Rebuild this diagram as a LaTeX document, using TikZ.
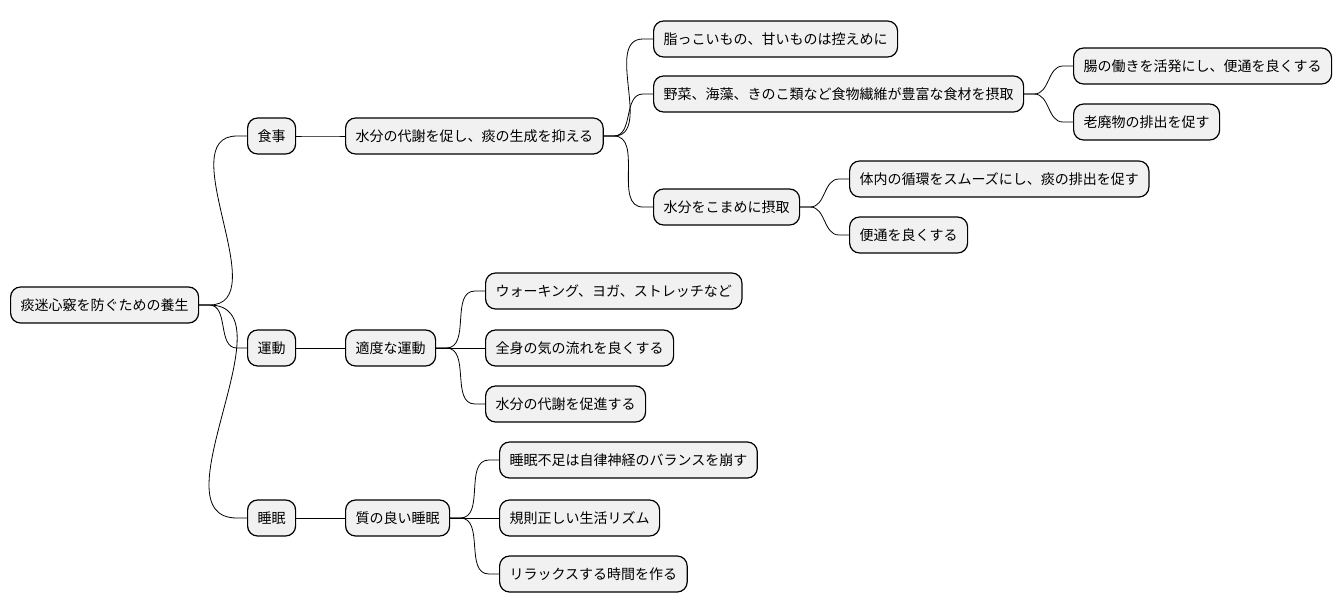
\documentclass[tikz,border=0pt]{standalone}
\usepackage{fontspec}
\setmainfont{Noto Sans CJK JP}
\usetikzlibrary{positioning}
\definecolor{boxgray}{HTML}{F1F1F1}

\begin{document}
\begin{tikzpicture}[
    x=0.75pt, y=-0.75pt,
    topic/.style={draw, line width=0.9pt, fill=boxgray, rounded corners=7.5pt, anchor=west,
        minimum height=27pt, inner xsep=7.5pt, font=\fontsize{10.5}{12}\selectfont},
    branch/.style={line width=0.6pt}
]
    \useasboundingbox (0,0) rectangle (1342,612);

    % Root and first level
    \node[topic] (root) at (10,305) {痰迷心竅を防ぐための養生};
    \node[topic] (diet) at (247,136) {食事};
    \node[topic] (move) at (247,348) {運動};
    \node[topic] (sleep) at (247,518) {睡眠};

    % Second level
    \node[topic] (water) at (345,136) {水分の代謝を促し、痰の生成を抑える};
    \node[topic] (exer) at (345,348) {適度な運動};
    \node[topic] (good) at (345,518) {質の良い睡眠};

    % Diet details
    \node[topic] (fat) at (653,39) {脂っこいもの、甘いものは控えめに};
    \node[topic] (veg) at (653,94) {野菜、海藻、きのこ類など食物繊維が豊富な食材を摂取};
    \node[topic] (drink) at (653,207) {水分をこまめに摂取};
    \node[topic] (gut) at (1073,66) {腸の働きを活発にし、便通を良くする};
    \node[topic] (waste) at (1073,122) {老廃物の排出を促す};
    \node[topic] (flow) at (849,179) {体内の循環をスムーズにし、痰の排出を促す};
    \node[topic] (bowel) at (849,235) {便通を良くする};

    % Exercise details
    \node[topic] (walk) at (485,291) {ウォーキング、ヨガ、ストレッチなど};
    \node[topic] (qi) at (485,348) {全身の気の流れを良くする};
    \node[topic] (meta) at (485,404) {水分の代謝を促進する};

    % Sleep details
    \node[topic] (lack) at (499,460) {睡眠不足は自律神経のバランスを崩す};
    \node[topic] (rhythm) at (499,518) {規則正しい生活リズム};
    \node[topic] (relax) at (499,574) {リラックスする時間を作る};

    % Branches
    \foreach \a/\b in {root/diet, root/move, root/sleep,
                       diet/water, move/exer, sleep/good,
                       water/fat, water/veg, water/drink,
                       veg/gut, veg/waste, drink/flow, drink/bowel,
                       exer/walk, exer/qi, exer/meta,
                       good/lack, good/rhythm, good/relax}
        \draw[branch] (\a.east) -- ++(10,0) to[out=0,in=180] ([xshift=-7.5pt]\b.west) -- (\b.west);
\end{tikzpicture}
\end{document}
